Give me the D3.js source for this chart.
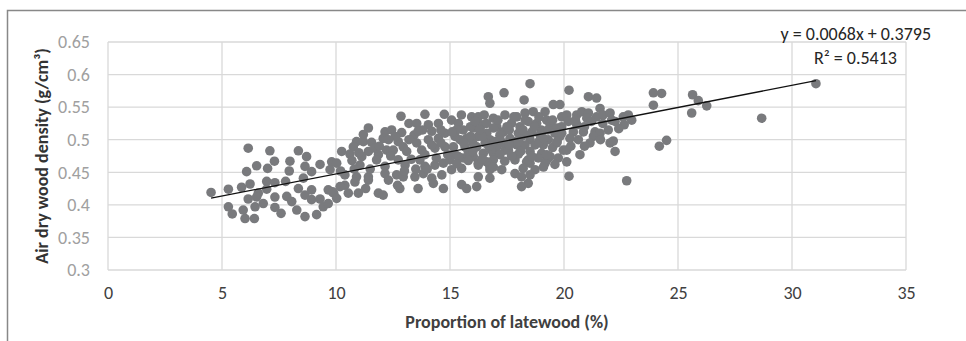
<!DOCTYPE html>
<html>
<head>
<meta charset="utf-8">
<script src="https://cdn.jsdelivr.net/npm/d3@7"></script>
<style>
  body { margin: 0; background: #fff; }
  svg text { font-family: Carlito, Calibri, Lato, sans-serif; }
</style>
</head>
<body>
<svg id="chart"></svg>
<script>
// Chart size matches the browser window
const width = 966;
const height = 341;

// Axis ticks
const xTicks = [0, 5, 10, 15, 20, 25, 30, 35];
const yTicks = [0.3, 0.35, 0.4, 0.45, 0.5, 0.55, 0.6, 0.65];
const yTickLabels = ["0.3", "0.35", "0.4", "0.45", "0.5", "0.55", "0.6", "0.65"];

// Linear trend reported on the chart
const trendSlope = 0.0068;
const trendIntercept = 0.3795;
const equationText = "y = 0.0068x + 0.3795";
const rSquaredText = "R² = 0.5413";

// Proportion of latewood (%) per sample
const latewood = [
  4.52, 5.28, 6.15, 7.10, 8.35, 6.52, 7.30, 7.00, 6.08, 7.98,
  7.95, 8.71, 8.64, 9.30, 9.81, 8.93, 9.74, 8.57, 5.86, 6.23,
  6.96, 7.32, 7.79, 6.59, 6.96, 6.15, 6.52, 7.32, 5.28, 5.45,
  5.93, 6.01, 6.42, 6.45, 6.81, 7.32, 7.59, 7.84, 8.06, 8.28,
  8.35, 8.64, 8.93, 8.64, 9.15, 8.93, 9.44, 9.30, 9.66, 9.66,
  9.90, 9.85,
  12.85, 13.90, 14.75, 13.20, 13.54, 14.05, 14.49, 11.42, 12.15, 12.44,
  12.88, 13.42, 12.07, 10.90, 11.20, 11.56, 12.73, 13.54, 14.05, 14.49,
  14.78, 10.25, 10.76, 10.61, 11.42, 11.13, 11.86, 12.22, 12.51, 12.95,
  13.10, 13.76, 14.34, 14.78, 10.03, 11.05, 11.78, 12.15, 12.73, 13.03,
  13.68, 13.90, 14.34, 14.71, 10.39, 10.90, 11.42, 12.15, 12.66, 12.95,
  13.46, 13.83, 14.20, 14.64, 10.39, 10.83, 11.42, 10.54, 10.98, 11.86,
  12.07, 12.80, 13.60, 14.27, 14.71, 10.03, 10.18,
  18.51, 17.37, 16.68, 16.75, 18.25, 19.53, 19.82, 15.95, 16.24, 16.90,
  17.41, 17.93, 18.29, 18.65, 19.17, 19.90, 15.07, 15.37, 15.58, 16.02,
  16.39, 16.61, 17.05, 17.34, 17.70, 18.07, 18.43, 18.80, 19.24, 19.39,
  19.68, 15.22, 15.73, 16.24, 16.75, 17.19, 17.63, 18.14, 18.51, 18.95,
  19.31, 19.82, 15.15, 15.66, 16.17, 16.54, 17.05, 17.41, 17.93, 18.29,
  18.73, 19.09, 19.68, 19.97, 15.22, 15.58, 16.02, 16.46, 16.90, 17.19,
  17.56, 18.51, 19.02, 19.39, 19.75, 16.90, 16.61, 17.85, 18.36, 18.87,
  19.24, 15.07, 15.51, 16.24, 16.75, 17.27, 17.85, 18.21, 18.51, 18.73,
  19.17, 16.75, 18.14, 18.51, 18.43, 18.14, 16.24, 16.17, 15.51, 15.73,
  20.22, 21.07, 21.43, 23.92, 24.28, 23.92, 21.58, 20.12, 20.56, 20.78,
  21.07, 21.00, 21.43, 21.72, 22.02, 22.09, 22.60, 22.82, 22.97, 22.24,
  22.64, 20.19, 20.56, 20.41, 20.85, 21.36, 21.58, 21.94, 20.26, 20.63,
  21.29, 21.14, 22.02, 22.16, 20.12, 22.24, 20.70, 24.18, 24.50, 20.12,
  20.22, 22.75,
  25.64, 25.89, 26.26, 25.60, 28.67, 31.05,
  15.29, 15.44, 15.37, 15.00, 16.24, 16.75, 18.43, 19.24, 16.00, 16.40,
  17.00, 17.60, 18.00, 18.60, 19.00, 19.60, 17.30, 16.80, 18.00, 19.50,
  15.80, 15.90, 16.60, 17.80, 18.90, 19.90, 14.60, 14.20, 13.80, 13.20,
  12.60, 13.90, 13.30, 12.40, 11.70, 11.00, 10.70, 11.50, 12.30, 13.00,
  14.00, 14.40, 10.20,
  15.10, 15.50, 15.60, 15.90, 16.10, 16.30, 16.50, 16.70, 16.90, 17.10,
  17.20, 17.50, 17.60, 17.80, 18.00, 18.20, 18.30, 18.50, 18.70, 18.90,
  19.10, 19.30, 19.50, 19.70, 19.90, 16.00, 16.40, 16.90, 17.40, 17.70,
  18.10, 18.60, 19.10, 19.60, 15.30, 15.80, 20.30, 20.50, 20.90, 21.20,
  21.70, 22.40, 20.90, 21.60, 14.90, 14.60, 13.60, 14.20, 12.30, 11.90,
  11.20, 10.80, 13.50, 12.70, 11.30
];

// Air dry wood density (g/cm³) per sample, same order as latewood
const density = [
  0.419, 0.424, 0.487, 0.483, 0.483, 0.460, 0.467, 0.456, 0.451, 0.467,
  0.452, 0.474, 0.459, 0.462, 0.466, 0.451, 0.454, 0.441, 0.427, 0.432,
  0.436, 0.434, 0.436, 0.418, 0.424, 0.409, 0.412, 0.412, 0.397, 0.386,
  0.392, 0.379, 0.379, 0.397, 0.402, 0.396, 0.387, 0.413, 0.405, 0.392,
  0.425, 0.415, 0.423, 0.382, 0.385, 0.408, 0.397, 0.409, 0.402, 0.423,
  0.418, 0.420,
  0.536, 0.539, 0.539, 0.525, 0.525, 0.523, 0.525, 0.518, 0.512, 0.515,
  0.511, 0.507, 0.502, 0.497, 0.497, 0.496, 0.497, 0.495, 0.500, 0.502,
  0.510, 0.482, 0.489, 0.478, 0.482, 0.474, 0.477, 0.484, 0.484, 0.489,
  0.482, 0.484, 0.487, 0.489, 0.464, 0.461, 0.469, 0.459, 0.469, 0.461,
  0.469, 0.459, 0.461, 0.464, 0.446, 0.443, 0.443, 0.448, 0.446, 0.443,
  0.443, 0.448, 0.441, 0.446, 0.430, 0.435, 0.438, 0.418, 0.418, 0.418,
  0.415, 0.425, 0.425, 0.433, 0.425, 0.410, 0.428,
  0.586, 0.572, 0.566, 0.556, 0.561, 0.554, 0.554, 0.535, 0.535, 0.533,
  0.538, 0.535, 0.541, 0.543, 0.543, 0.535, 0.530, 0.525, 0.515, 0.518,
  0.523, 0.510, 0.520, 0.512, 0.525, 0.520, 0.528, 0.525, 0.530, 0.523,
  0.518, 0.505, 0.502, 0.505, 0.500, 0.507, 0.502, 0.505, 0.500, 0.507,
  0.500, 0.505, 0.489, 0.489, 0.489, 0.495, 0.489, 0.484, 0.492, 0.492,
  0.492, 0.492, 0.495, 0.484, 0.477, 0.472, 0.474, 0.479, 0.479, 0.477,
  0.484, 0.482, 0.479, 0.474, 0.472, 0.469, 0.466, 0.469, 0.466, 0.472,
  0.469, 0.454, 0.456, 0.461, 0.459, 0.454, 0.448, 0.456, 0.464, 0.454,
  0.464, 0.441, 0.443, 0.446, 0.433, 0.428, 0.443, 0.428, 0.431, 0.425,
  0.576, 0.566, 0.564, 0.572, 0.571, 0.553, 0.548, 0.538, 0.538, 0.543,
  0.541, 0.533, 0.535, 0.538, 0.541, 0.530, 0.535, 0.538, 0.530, 0.528,
  0.523, 0.528, 0.523, 0.512, 0.512, 0.512, 0.510, 0.515, 0.502, 0.500,
  0.505, 0.495, 0.495, 0.498, 0.484, 0.482, 0.477, 0.490, 0.499, 0.466,
  0.444, 0.437,
  0.569, 0.560, 0.552, 0.541, 0.533, 0.586,
  0.515, 0.500, 0.474, 0.469, 0.464, 0.454, 0.469, 0.477, 0.495, 0.505,
  0.497, 0.515, 0.510, 0.512, 0.515, 0.510, 0.495, 0.485, 0.478, 0.488,
  0.482, 0.520, 0.525, 0.497, 0.497, 0.520, 0.495, 0.513, 0.515, 0.500,
  0.505, 0.477, 0.470, 0.475, 0.487, 0.480, 0.468, 0.455, 0.438, 0.452,
  0.455, 0.472, 0.452,
  0.512, 0.538, 0.495, 0.505, 0.528, 0.515, 0.538, 0.490, 0.518, 0.530,
  0.500, 0.520, 0.492, 0.535, 0.497, 0.515, 0.530, 0.507, 0.520, 0.535,
  0.502, 0.515, 0.530, 0.497, 0.510, 0.482, 0.470, 0.458, 0.467, 0.475,
  0.482, 0.474, 0.458, 0.462, 0.463, 0.468, 0.490, 0.530, 0.520, 0.528,
  0.525, 0.517, 0.490, 0.500, 0.477, 0.515, 0.513, 0.492, 0.500, 0.490,
  0.508, 0.455, 0.455, 0.430, 0.425
];

// Plot area
const plot = { left: 108, right: 906, top: 42, bottom: 270 };

const x = d3.scaleLinear().domain([0, 35]).range([plot.left, plot.right]);
const y = d3.scaleLinear().domain([0.3, 0.65]).range([plot.bottom, plot.top]);

const svg = d3.select("#chart")
  .attr("width", width)
  .attr("height", height);

// Chart frame (cut off by the window on the right and bottom)
svg.append("rect")
  .attr("x", 7.5)
  .attr("y", 10.5)
  .attr("width", 1000)
  .attr("height", 400)
  .attr("fill", "none")
  .attr("stroke", "#888")
  .attr("stroke-width", 1.5);

// Gridlines
svg.append("g")
  .selectAll("line")
  .data(yTicks)
  .join("line")
  .attr("x1", plot.left)
  .attr("x2", plot.right)
  .attr("y1", d => y(d))
  .attr("y2", d => y(d))
  .attr("stroke", "#d9d9d9")
  .attr("stroke-width", 1.3);

svg.append("g")
  .selectAll("line")
  .data(xTicks)
  .join("line")
  .attr("x1", d => x(d))
  .attr("x2", d => x(d))
  .attr("y1", plot.top)
  .attr("y2", plot.bottom)
  .attr("stroke", "#d9d9d9")
  .attr("stroke-width", 1.3);

// Axes (labels only, no domain line)
const yAxis = svg.append("g")
  .attr("transform", `translate(${plot.left},0)`)
  .call(d3.axisLeft(y).tickValues(yTicks).tickSize(0).tickPadding(18)
    .tickFormat((d, i) => yTickLabels[i]));
yAxis.select(".domain").remove();
yAxis.selectAll("text")
  .attr("fill", "#a0a0a0")
  .style("font-size", "18px");

const xAxis = svg.append("g")
  .attr("transform", `translate(0,${plot.bottom})`)
  .call(d3.axisBottom(x).tickValues(xTicks).tickSize(0).tickPadding(16));
xAxis.select(".domain").remove();
xAxis.selectAll("text")
  .attr("fill", "#404040")
  .style("font-size", "18px");

// Points
svg.append("g")
  .selectAll("circle")
  .data(latewood.map((d, i) => [d, density[i]]))
  .join("circle")
  .attr("cx", d => x(d[0]))
  .attr("cy", d => y(d[1]))
  .attr("r", 4.8)
  .attr("fill", "#797a7d");

// Trend line across the data range
const [xMin, xMax] = d3.extent(latewood);
svg.append("line")
  .attr("x1", x(xMin))
  .attr("y1", y(trendSlope * xMin + trendIntercept))
  .attr("x2", x(xMax))
  .attr("y2", y(trendSlope * xMax + trendIntercept))
  .attr("stroke", "#111")
  .attr("stroke-width", 1.3);

// Trend equation
svg.append("text")
  .attr("x", 931)
  .attr("y", 40)
  .attr("text-anchor", "end")
  .attr("fill", "#262626")
  .style("font-size", "18px")
  .text(equationText);

svg.append("text")
  .attr("x", 897)
  .attr("y", 64)
  .attr("text-anchor", "end")
  .attr("fill", "#262626")
  .style("font-size", "18px")
  .text(rSquaredText);

// Axis titles
svg.append("text")
  .attr("transform", `translate(42,${(plot.top + plot.bottom) / 2}) rotate(-90)`)
  .attr("text-anchor", "middle")
  .attr("dominant-baseline", "central")
  .attr("fill", "#333")
  .style("font-size", "18px")
  .style("font-weight", "bold")
  .text("Air dry wood density (g/cm³)");

svg.append("text")
  .attr("x", (plot.left + plot.right) / 2)
  .attr("y", 322)
  .attr("text-anchor", "middle")
  .attr("dominant-baseline", "central")
  .attr("fill", "#404040")
  .style("font-size", "18px")
  .style("font-weight", "bold")
  .text("Proportion of latewood (%)");
</script>
</body>
</html>
